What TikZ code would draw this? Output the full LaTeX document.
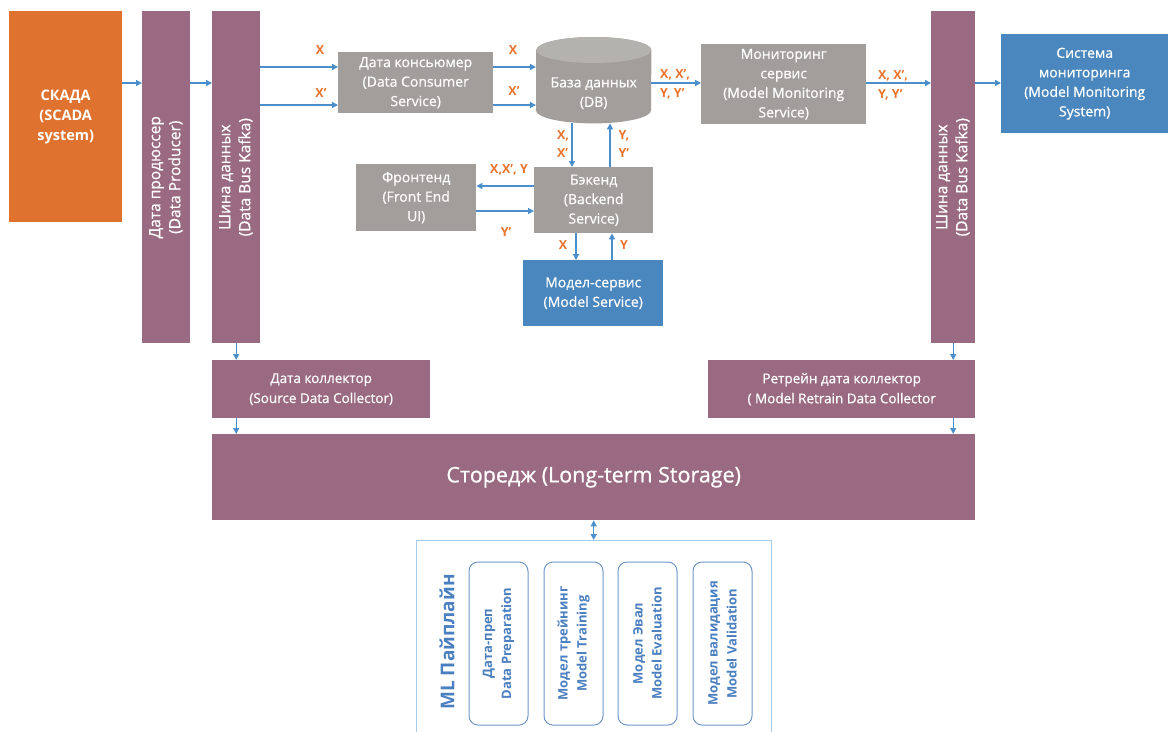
\documentclass[tikz,border=0pt]{standalone}
\usepackage{fontspec}
\setmainfont{Open Sans}
\newfontfamily\boxfont{Open Sans}[FakeBold=0.7]
\usetikzlibrary{positioning, arrows.meta, calc}

\definecolor{scadaorange}{HTML}{E0722F}
\definecolor{busviolet}{HTML}{9A6A82}
\definecolor{boxgray}{HTML}{A19E9B}
\definecolor{dbtop}{HTML}{B4B2AF}
\definecolor{boxblue}{HTML}{4A87BE}
\definecolor{arrowblue}{HTML}{4A8FCB}
\definecolor{lblorange}{HTML}{E8732C}
\definecolor{pipeframe}{HTML}{A9CBEA}
\definecolor{stageborder}{HTML}{6F97C8}
\definecolor{stageblue}{HTML}{4A7FC0}

\newcommand{\vtext}[1]{\rotatebox{90}{\begin{tabular}{@{}c@{}}#1\end{tabular}}}

\begin{document}
\begin{tikzpicture}[
    x=1pt, y=-1pt,
    box/.style={
        rectangle,
        anchor=north west,
        inner sep=2pt,
        align=center,
        text=white,
        font=\boxfont\fontsize{14}{19.5}\selectfont
    },
    graybox/.style={box, fill=boxgray},
    bluebox/.style={box, fill=boxblue},
    busbar/.style={box, fill=busviolet},
    barbox/.style={busbar, font=\boxfont\fontsize{15.5}{20}\selectfont},
    flow/.style={
        -{Triangle[length=6pt,width=6pt]},
        line width=1.3pt,
        arrowblue
    },
    biflow/.style={
        flow,
        {Triangle[length=6pt,width=6pt]}-{Triangle[length=6pt,width=6pt]}
    },
    lbl/.style={
        font=\fontsize{12.5}{19}\selectfont\bfseries,
        text=lblorange,
        inner sep=1pt,
        align=left
    },
    stagebox/.style={
        rectangle,
        rounded corners=9pt,
        draw=stageborder,
        line width=1pt,
        fill=white,
        rotate=90,
        minimum width=163pt,
        minimum height=59pt,
        align=center,
        text=stageblue,
        font=\fontsize{13}{19}\selectfont\bfseries
    }
]
    \useasboundingbox (0,0) rectangle (1169,731);

    % Rows and columns for the connectors
    \coordinate (rowA) at (0,83);
    \coordinate (rowX) at (0,67);
    \coordinate (rowXp) at (0,105);
    \coordinate (rowF) at (0,186);
    \coordinate (rowB) at (0,211);
    \coordinate (colD) at (572,0);
    \coordinate (colU) at (610,0);
    \coordinate (colMD) at (576,0);
    \coordinate (colMU) at (612,0);

    % Nodes
    \node[box, fill=scadaorange, minimum width=113pt, minimum height=211pt, font=\fontsize{14.5}{20}\selectfont\bfseries] (scada) at (9,11) {СКАДА\\(SCADA\\system)};
    \node[barbox, minimum width=48pt, minimum height=332pt] (prod) at (142,11) {\vtext{Дата продюссер\\(Data Producer)}};
    \node[barbox, minimum width=48pt, minimum height=332pt] (bus1) at (212,11) {\vtext{Шина данных\\(Data Bus Kafka)}};
    \node[graybox, minimum width=155pt, minimum height=61pt] (cons) at (338,52) {Дата консьюмер\\(Data Consumer\\Service)};
    \node[box, minimum width=115pt, minimum height=86pt] (db) at (536,37) {};
    \node[graybox, minimum width=165pt, minimum height=80pt] (mon) at (701,44) {Мониторинг\\сервис\\(Model Monitoring\\Service)};
    \node[barbox, minimum width=44pt, minimum height=332pt] (bus2) at (931,11) {\vtext{Шина данных\\(Data Bus Kafka)}};
    \node[bluebox, minimum width=167pt, minimum height=99pt] (monsys) at (1001,34) {Система\\мониторинга\\(Model Monitoring\\System)};
    \node[graybox, minimum width=120pt, minimum height=67pt] (front) at (356,164) {Фронтенд\\(Front End\\UI)};
    \node[graybox, minimum width=119pt, minimum height=66pt] (back) at (534,167) {Бэкенд\\(Backend\\Service)};
    \node[bluebox, minimum width=140pt, minimum height=66pt] (msvc) at (523,260) {Модел-сервис\\(Model Service)};
    \node[busbar, minimum width=218pt, minimum height=58pt, font=\boxfont\fontsize{13.5}{20}\selectfont] (srccol) at (212,360) {Дата коллектор\\(Source Data Collector)};
    \node[busbar, minimum width=267pt, minimum height=58pt, font=\boxfont\fontsize{13.5}{20}\selectfont] (retcol) at (708,360) {Ретрейн дата коллектор\\( Model Retrain Data Collector};
    \node[busbar, minimum width=763pt, minimum height=86pt, font=\boxfont\fontsize{21.5}{26}\selectfont] (store) at (212,434) {Сторедж (Long-term Storage)};
    \node[box, minimum width=355pt, minimum height=200pt] (pipe) at (416,540) {};

    % Database cylinder
    \fill[boxgray] ([yshift=-13pt]db.north west) -- ([yshift=13pt]db.south west)
        arc[start angle=180, end angle=360, x radius=57.5pt, y radius=13pt]
        -- ([yshift=-13pt]db.north east)
        arc[start angle=0, end angle=180, x radius=57.5pt, y radius=13pt] -- cycle;
    \fill[dbtop] ([yshift=-13pt]db.north) ellipse [x radius=57.5pt, y radius=13pt];
    \node[box, anchor=center] (dbtext) at ([yshift=-13pt]db.center) {База данных\\(DB)};

    % ML pipeline
    \draw[pipeframe, line width=1pt] (pipe.south west) -- (pipe.north west) -- (pipe.north east) -- (pipe.south east);
    \node[rotate=90, text=stageblue, font=\fontsize{19}{24}\selectfont\bfseries] (mltitle) at (447,642) {ML Пайплайн};
    \node[stagebox] (prep) at (498.5,643.5) {Дата-преп\\Data Preparation};
    \node[stagebox] (train) at (573.5,643.5) {Модел трейнинг\\Model Training};
    \node[stagebox] (eval) at (647.5,643.5) {Модел Эвал\\Model Evaluation};
    \node[stagebox] (valid) at (722.5,643.5) {Модел валидация\\Model Validation};

    % Main row
    \draw[flow] (scada.east |- rowA) -- (prod.west |- rowA);
    \draw[flow] (prod.east |- rowA) -- (bus1.west |- rowA);
    \draw[flow] (bus1.east |- rowX) -- (cons.west |- rowX);
    \draw[flow] (bus1.east |- rowXp) -- (cons.west |- rowXp);
    \draw[flow] (cons.east |- rowX) -- (db.west |- rowX);
    \draw[flow] (cons.east |- rowXp) -- (db.west |- rowXp);
    \draw[flow] (db.east |- rowA) -- (mon.west |- rowA);
    \draw[flow] (mon.east |- rowA) -- (bus2.west |- rowA);
    \draw[flow] (bus2.east |- rowA) -- (monsys.west |- rowA);

    % DB, backend, frontend, model service
    \draw[flow] (colD |- db.south) -- (colD |- back.north);
    \draw[flow] (colU |- back.north) -- (colU |- db.south);
    \draw[flow] (back.west |- rowF) -- (front.east |- rowF);
    \draw[flow] (front.east |- rowB) -- (back.west |- rowB);
    \draw[flow] (colMD |- back.south) -- (colMD |- msvc.north);
    \draw[flow] (colMU |- msvc.north) -- (colMU |- back.south);

    % Collectors and storage
    \draw[flow] (bus1.south) -- (bus1.south |- srccol.north);
    \draw[flow] (bus1.south |- srccol.south) -- (bus1.south |- store.north);
    \draw[flow] (bus2.south) -- (bus2.south |- retcol.north);
    \draw[flow] (bus2.south |- retcol.south) -- (bus2.south |- store.north);
    \draw[biflow] (store.south -| pipe.north) -- (pipe.north);

    % Labels
    \node[lbl] (l1) at (320,50) {X};
    \node[lbl] (l2) at (321,93) {X'};
    \node[lbl] (l3) at (513,50) {X};
    \node[lbl] (l4) at (514,91) {X'};
    \node[lbl] (l5) at (675,84) {X, X',\\Y, Y'};
    \node[lbl] (l6) at (893,85) {X, X',\\Y, Y'};
    \node[lbl, font=\fontsize{12.5}{18}\selectfont\bfseries] (l7) at (563,144) {X,\\X'};
    \node[lbl, font=\fontsize{12.5}{18}\selectfont\bfseries] (l8) at (624,144) {Y,\\Y'};
    \node[lbl] (l9) at (509,170) {X,X', Y};
    \node[lbl] (l10) at (506,232) {Y'};
    \node[lbl] (l11) at (563,245) {X};
    \node[lbl] (l12) at (624,245) {Y};
\end{tikzpicture}
\end{document}
